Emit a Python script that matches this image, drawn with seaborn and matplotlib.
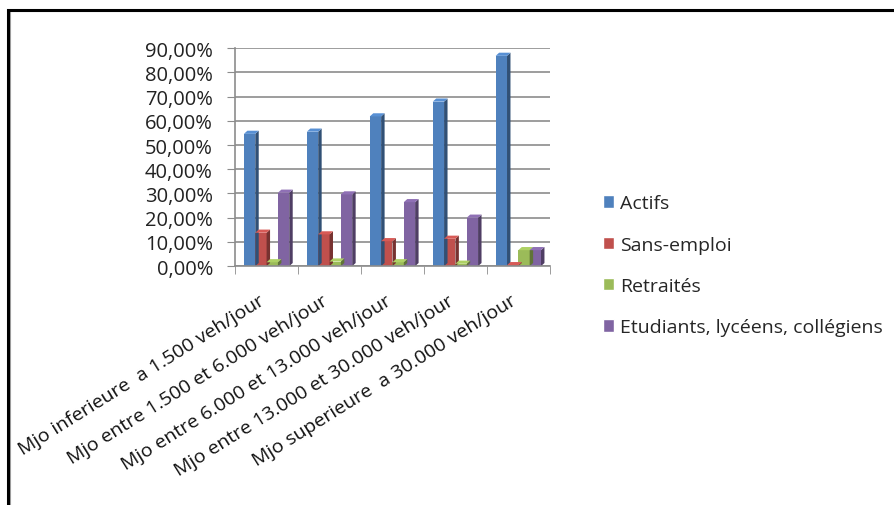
import matplotlib.pyplot as plt
from matplotlib.ticker import FuncFormatter, FixedLocator
from matplotlib.patches import Rectangle, Polygon
from matplotlib.transforms import ScaledTranslation
import numpy as np
import pandas as pd
import seaborn as sns

categories = ['Mjo inferieure  a 1.500 veh/jour',
              'Mjo entre 1.500 et 6.000 veh/jour',
              'Mjo entre 6.000 et 13.000 veh/jour',
              'Mjo entre 13.000 et 30.000 veh/jour',
              'Mjo superieure  a 30.000 veh/jour']
series = ['Actifs', 'Sans-emploi', 'Retraités', 'Etudiants, lycéens, collégiens']
actifs = [0.546, 0.555, 0.618, 0.679, 0.868]
sans_emploi = [0.138, 0.131, 0.103, 0.113, 0.004]
retraites = [0.016, 0.019, 0.016, 0.010, 0.066]
etudiants = [0.303, 0.296, 0.264, 0.200, 0.066]
colors = ['#4F81BD', '#C0504D', '#9BBB59', '#8064A2']

rows = []
for name, vals in zip(series, [actifs, sans_emploi, retraites, etudiants]):
    for cat, v in zip(categories, vals):
        rows.append({'cat': cat, 'serie': name, 'val': v})
df = pd.DataFrame(rows)

sns.set_style('white')
plt.rcParams['font.family'] = ['Open Sans', 'DejaVu Sans']

fig = plt.figure(figsize=(8.94, 5.06), dpi=100)
ax = fig.add_axes([0.263, 0.472, 0.352, 0.431])

sns.barplot(data=df, x='cat', y='val', hue='serie', palette=colors,
            width=0.72, saturation=1, ax=ax, legend=True)

ax.set_ylim(0, 0.9)
ax.set_xlim(-0.5, 4.5)
ax.yaxis.set_major_locator(FixedLocator(np.arange(0, 0.91, 0.1)))
ax.yaxis.set_major_formatter(FuncFormatter(lambda v, p: f'{v*100:.2f}%'.replace('.', ',')))
ax.grid(axis='y', color='#8c8c8c', lw=1.2)
ax.set_axisbelow(True)
for s in ['top', 'right']:
    ax.spines[s].set_visible(False)
for s in ['left', 'bottom']:
    ax.spines[s].set_color('#8c8c8c')
    ax.spines[s].set_linewidth(1.2)
ax.tick_params(axis='y', length=6, color='#8c8c8c', labelsize=14.5, pad=10,
               direction='out', left=True, labelcolor='#222222')
ax.set_xticks(range(len(categories)))
ax.set_xticklabels(categories, rotation=32, ha='right', va='top',
                   rotation_mode='anchor', fontsize=14, color='#111111')
ax.tick_params(axis='x', length=0, pad=18)
shift = ScaledTranslation(-8 / 100, 0, fig.dpi_scale_trans)
for lab in ax.get_xticklabels():
    lab.set_transform(lab.get_transform() + shift)
ax.set_xticks(np.arange(-0.5, 5, 1), minor=True)
ax.tick_params(axis='x', which='minor', length=6, color='#8c8c8c', bottom=True)
ax.set_xlabel('')
ax.set_ylabel('')

# side and top faces to give the bars some depth
dx, dy = 0.055, 0.013
for bar in list(ax.patches):
    h = bar.get_height()
    w = bar.get_width()
    if w <= 0:
        continue
    bar.set_edgecolor('none')
    x0 = bar.get_x()
    fc = np.array(bar.get_facecolor())
    side = fc.copy()
    side[:3] *= 0.62
    top = fc.copy()
    top[:3] = np.clip(top[:3] * 1.12, 0, 1)
    ax.add_patch(Polygon([(x0 + w, 0), (x0 + w + dx, dy), (x0 + w + dx, h + dy), (x0 + w, h)],
                         closed=True, facecolor=side, edgecolor='none', zorder=bar.get_zorder()))
    ax.add_patch(Polygon([(x0, h), (x0 + dx, h + dy), (x0 + w + dx, h + dy), (x0 + w, h)],
                         closed=True, facecolor=top, edgecolor='none', zorder=bar.get_zorder()))

handles, labels = ax.get_legend_handles_labels()
ax.get_legend().remove()
fig.legend(handles, labels, loc='upper left', bbox_to_anchor=(0.674, 0.614),
           frameon=False, fontsize=14, labelspacing=1.2,
           handlelength=0.6, handleheight=0.6, handletextpad=0.3,
           borderaxespad=0, borderpad=0)

fig.add_artist(Rectangle((0.0115, -0.05), 1.1, 1.0265, transform=fig.transFigure,
                         fill=False, edgecolor='#a0a0a0', lw=1.5))
fig.add_artist(Rectangle((0.0095, -0.05), 1.1, 1.029, transform=fig.transFigure,
                         fill=False, edgecolor='black', lw=2.2))

fig.savefig('out.png', dpi=100, facecolor='white')
